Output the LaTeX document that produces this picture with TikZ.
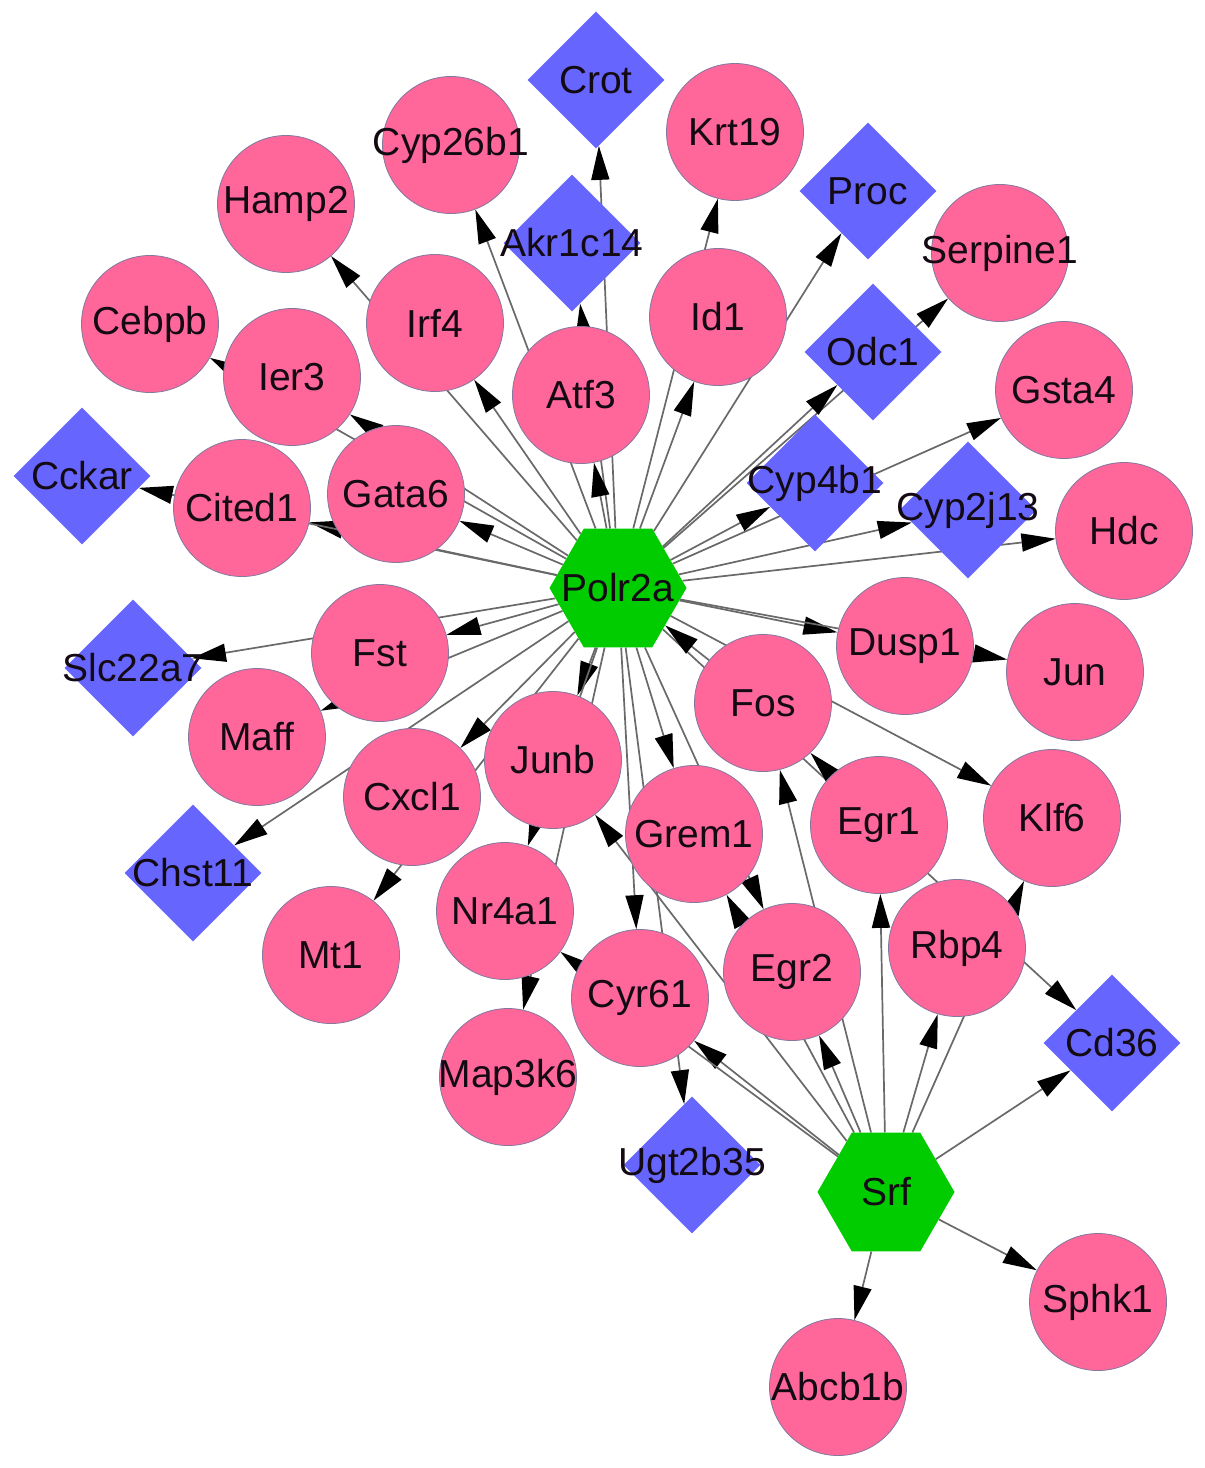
\documentclass[tikz,border=0pt]{standalone}
\usepackage{fontspec}
\setmainfont{Liberation Sans}
\usetikzlibrary{shapes.geometric,arrows.meta,backgrounds}
\definecolor{pinkc}{RGB}{255,102,153}
\definecolor{circb}{RGB}{130,120,160}
\definecolor{diac}{RGB}{102,102,255}
\definecolor{hexc}{RGB}{0,204,0}
\definecolor{edgec}{RGB}{105,105,105}
\definecolor{txtc}{RGB}{20,10,20}
\tikzset{
  lab/.style={font=\fontsize{39}{41}\selectfont, text=txtc, inner sep=0pt},
  gene/.style={circle, fill=pinkc, draw=circb, line width=0.8pt, minimum size=137pt, inner sep=0pt, label={[lab]center:#1}},
  dia/.style={diamond, fill=diac, minimum width=137pt, minimum height=137pt, inner sep=0pt, label={[lab]center:#1}},
  hub/.style={regular polygon, regular polygon sides=6, fill=hexc, minimum size=137pt, inner sep=0pt, label={[lab]center:#1}},
  edge/.style={draw=edgec, line width=1.7pt, -{Triangle[length=34pt,width=18pt,color=black]}}
}
\begin{document}
\begin{tikzpicture}[x=1pt,y=-1pt]
\useasboundingbox (0,0) rectangle (1205,1468);
% nodes
\node[dia=Crot] (Crot) at (596,80) {};
\node[gene=Cyp26b1] (Cyp26b1) at (451,145) {};
\node[gene=Krt19] (Krt19) at (735,132) {};
\node[gene=Hamp2] (Hamp2) at (286,204) {};
\node[dia=Proc] (Proc) at (868,191) {};
\node[dia=Akr1c14] (Akr1c14) at (572,243) {};
\node[gene=Serpine1] (Serpine1) at (1000,253) {};
\node[gene=Cebpb] (Cebpb) at (150,324) {};
\node[gene=Irf4] (Irf4) at (435,323) {};
\node[gene=Id1] (Id1) at (718,317) {};
\node[gene=Ier3] (Ier3) at (292,377) {};
\node[gene=Atf3] (Atf3) at (581,395) {};
\node[dia=Odc1] (Odc1) at (873,352) {};
\node[gene=Gsta4] (Gsta4) at (1064,390) {};
\node[dia=Cckar] (Cckar) at (82,476) {};
\node[gene=Cited1] (Cited1) at (242,508) {};
\node[gene=Gata6] (Gata6) at (396,494) {};
\node[dia=Cyp4b1] (Cyp4b1) at (815,483) {};
\node[dia=Cyp2j13] (Cyp2j13) at (968,510) {};
\node[gene=Hdc] (Hdc) at (1124,531) {};
\node[dia=Slc22a7] (Slc22a7) at (133,668) {};
\node[gene=Fst] (Fst) at (380,653) {};
\node[gene=Dusp1] (Dusp1) at (905,646) {};
\node[gene=Jun] (Jun) at (1075,672) {};
\node[gene=Maff] (Maff) at (257,737) {};
\node[gene=Fos] (Fos) at (763,703) {};
\node[gene=Junb] (Junb) at (553,760) {};
\node[gene=Cxcl1] (Cxcl1) at (412,797) {};
\node[gene=Grem1] (Grem1) at (694,834) {};
\node[gene=Egr1] (Egr1) at (879,825) {};
\node[gene=Klf6] (Klf6) at (1052,818) {};
\node[dia=Chst11] (Chst11) at (193,873) {};
\node[gene=Nr4a1] (Nr4a1) at (505,911) {};
\node[gene=Mt1] (Mt1) at (331,955) {};
\node[gene=Cyr61] (Cyr61) at (640,998) {};
\node[gene=Egr2] (Egr2) at (792,972) {};
\node[gene=Rbp4] (Rbp4) at (957,948) {};
\node[dia=Cd36] (Cd36) at (1112,1043) {};
\node[gene=Map3k6] (Map3k6) at (508,1077) {};
\node[dia=Ugt2b35] (Ugt2b35) at (692,1165) {};
\node[gene=Sphk1] (Sphk1) at (1098,1302) {};
\node[gene=Abcb1b] (Abcb1b) at (838,1387) {};
\node[hub=Polr2a] (Polr2a) at (618,588) {};
\node[hub=Srf] (Srf) at (886,1192) {};
% edges
\begin{scope}[on background layer]
\fill[white] (0,0) rectangle (1205,1468);
\foreach \t in {Crot,Cyp26b1,Akr1c14,Krt19,Proc,Serpine1,Hamp2,Irf4,Id1,Atf3,Odc1,Gsta4,Cyp4b1,Cyp2j13,Hdc,Cebpb,Ier3,Gata6,Cited1,Cckar,Slc22a7,Fst,Maff,Chst11,Cxcl1,Mt1,Junb,Nr4a1,Map3k6,Cyr61,Ugt2b35,Grem1,Egr2,Dusp1,Jun,Klf6,Cd36}
  {\draw[edge] (Polr2a) -- (\t);}
\draw[edge] (Fos) -- (Polr2a);
\draw[edge] (Egr1) -- (Fos);
\foreach \t in {Cd36,Sphk1,Abcb1b,Rbp4,Egr1,Egr2,Cyr61,Nr4a1,Junb,Grem1,Fos,Klf6}
  {\draw[edge] (Srf) -- (\t);}
\end{scope}
\end{tikzpicture}
\end{document}
